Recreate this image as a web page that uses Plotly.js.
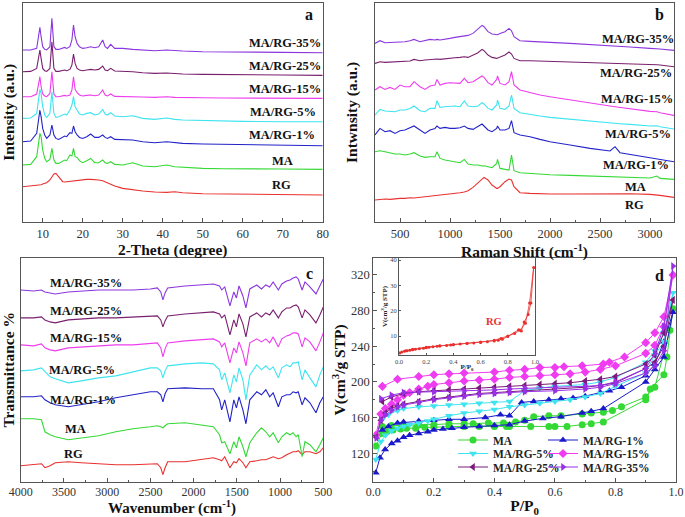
<!DOCTYPE html>
<html>
<head>
<meta charset="utf-8">
<script src="https://cdn.plot.ly/plotly-3.0.1.min.js"></script>
<style>html,body{margin:0;padding:0;background:#fff;}#chart{width:685px;height:517px;}</style>
</head>
<body>
<div id="chart"></div>
<script>
// ---------- Panel a : XRD ----------
const xrdTheta = [5,7,8.5,9,9.3,9.6,10,10.5,11,11.8,12.3,12.8,13.3,14,15,15.5,16,16.8,17.3,17.7,18.1,18.6,19.2,20,21,22,23,24,25,25.6,26.2,27,28,30,32.5,35,38,41,43,45,50,55,60,70,80];
const xrdRG  = [35,35.7,36.3,36.7,36.7,37,37.7,38.3,39,41.7,45,47.7,48.3,45,40,39.7,40,40.3,40.7,41,41,41.3,41.7,42,42.3,42.3,42.3,41.7,41,40,39,37.7,35.7,33.3,31.7,30.7,29.7,29.3,30,29,28,27.7,27.3,27,26.7];
const xrdMA  = [56.7,57.3,65,78.3,88.3,85,71.7,63.3,60,62.3,73.3,61.7,58.3,58.3,61,61.7,61,66.7,65.7,73.3,65,64.3,61,59,61,63.3,59,59,61.7,59,58.3,60,57.3,56.7,59,55.7,55,56.7,55,54.3,53.3,53,52.7,52.7,52.3];
const xrd1   = [80,80.7,88.3,101.7,111.7,105,93.3,86.7,83.3,86.7,96.7,86.7,83.3,82.3,85,85.7,85,89,88.3,95.7,90,86.7,84.3,83.3,85,87.7,84.3,84.3,86.7,84.3,83.3,85,82.3,81.7,81.7,80,79,80,79,78.3,77.7,77.3,77,76.3,76];
const xrd5   = [103.3,103.7,108.3,121.7,132.3,128.3,115,106.7,104.3,108.3,130,108.3,104.3,105,106.7,107.7,106.7,111.7,116.7,125,115,111.7,107.7,106.7,108.3,109,106.7,107.7,112.3,107.7,106.7,109,105.7,105,106,103.3,102.3,103.7,102.3,101.7,101,100.7,100.3,100,100];
const xrd15  = [125,125,127.7,136.7,145,135,127.7,125.7,125,128.3,150,127.7,125,125,125.7,126.3,125.7,126.7,131.7,145,132.3,129,126.7,125.7,126.3,126.7,126,126.7,131.7,126.7,125.7,127.7,125.3,125.3,125,124.7,124.3,125,124.3,124,124,123.7,123.7,123.3,123.3];
const xrd25  = [150,150.3,153.3,163.3,171.7,163.3,153.3,151,150.3,153.3,180,153.3,150.3,150.3,151,151.7,151,152.3,156.7,167.7,158.3,153.3,151.7,151,151.7,152.3,151.7,152.3,155.7,151.7,151,153.3,150.7,150.7,150,149,148.3,148.7,148,147.7,147.3,147,146.7,146.7,146.3];
const xrd35  = [171.7,171.7,173.3,185,194.3,185,175,172.3,171.7,175,203.3,175,172.3,172.3,173.3,174.3,173.3,175,181.7,196.7,185,178.3,175,173.3,174,175,174,175,181.7,175,173.3,177.3,173.3,173.3,172.3,171.7,171,171.7,171,170.7,170,169.7,169.3,169.3,169];

// ---------- Panel b : Raman ----------
const ramanShift = [250,300,350,400,450,500,550,600,640,700,750,800,850,870,900,950,1000,1050,1100,1143,1180,1230,1280,1320,1340,1380,1420,1467,1475,1500,1550,1590,1615,1640,1700,1800,1900,2000,2200,2400,2600,2650,2700,2800,3000,3070,3100,3240];
const ramanRG = [21.7,22.3,22.7,22.3,23,23.3,23.3,24,23.7,24.3,25,25.7,26.3,26.3,26.7,27.3,27.7,28.3,29,29.7,31,34.3,39,43.3,44.3,41.7,36.7,33.3,33.3,35,40,42.7,41.7,35,29,28.3,27.7,27.7,27.7,28,28.3,28.3,28.3,28,27.3,26.7,26.3,24.3];
const ramanMA = [70,71,70,69,67.7,67.7,66.7,67.7,69,65.7,64.3,65,65,70,63.3,61.7,61,60,59,62.3,57.7,56.7,56.7,55.7,56,55,54,58.3,62.3,53.3,52.3,51.7,66.7,51,49,48.3,47.7,47,46.3,45.7,45,45,44.7,44.3,43.7,45.7,43.3,42.3];
const raman1  = [86.7,93.3,90,91,88.3,91,91.7,94.3,95.7,91.7,88.3,91.7,93.3,95.7,93.3,94.3,93.3,93.3,94,95.7,93.3,92.3,95,97.7,95.7,91.7,90,93.3,95.7,91.7,91.7,93.3,101,89,86.7,85,82.3,80,76.7,73.3,70.7,75,69,67.3,64.3,63.3,62.7,60];
const raman5  = [106.7,112.3,110.7,110,110,111.7,111.7,113.3,115.7,111,110,113.3,113.3,121,114.3,115,115.7,115.7,115,120.7,115.7,115,115.7,119,117.7,113.3,111.7,116.7,121.7,113.3,112.3,115.7,126.7,113.3,109,107.7,105.7,104.3,102.3,100.7,99,98.3,98,97.3,95.7,96,95,92.7];
const raman15 = [131.7,135,132.3,134.3,132.3,136.7,135,135,140,135,132.3,135.7,136.7,142.3,136.7,138.3,139,138.3,138.3,143.3,139,140,143.3,145.7,144.3,139,136.7,142.3,145.7,138.3,136.7,140,150,136.7,131.7,129,126.7,125,121.7,118.3,115.7,115,114.3,113,110.3,110,109,106.3];
const raman25 = [158.3,160,159.3,159.7,159.7,160.3,160.7,160.7,162.3,161,161.7,162.3,162.3,162.7,162.3,163,163.3,164,164.3,165,164.3,166.7,169,172.3,171,166.7,164.3,163.3,163.7,164.3,166.7,169.7,167.7,163.3,161,161,160.7,160.7,160.3,159.7,159,158.7,158.7,158.3,157.3,157,156.7,155];
const raman35 = [178.3,181,179,179.3,179,180,180,181,182.3,180,181,182.3,181.7,182.3,181.7,182.3,183.3,184.3,185,185.7,186.3,188.3,193.3,196.3,195,190,187.7,186.7,187,188.3,190,193.3,191,185,181,180.3,180,179.3,178.3,177.3,176,175.7,175.3,174.7,173.3,173,172.7,171.3];

// ---------- Panel c : FTIR ----------
const ftirWn = [4000,3850,3760,3720,3660,3600,3450,3300,3100,2900,2700,2500,2420,2380,2355,2330,2300,2100,1900,1772,1700,1675,1640,1580,1535,1505,1475,1430,1395,1350,1270,1215,1165,1120,1080,1020,980,925,885,850,815,790,745,712,655,585,540,500];
const ftirRG = [16,17,18,14,16,19,20,19,18,17,17,18,18,14,7,14,20,20,22,24,22,21,25,14,20,19,23,19,14,20,21,22,22,24,25,23,24,27,29,30,30,31,27,30,30,28,30,34];
const ftirMA = [63,63,62,50,47,45,42,44,46,50,53,55,56,55,54,56,58,59,57,55,47,39,40,28,40,34,45,35,25,39,49,54,50,45,49,39,45,49,47,49,45,47,25,40,37,30,37,44];
const ftir1  = [85,85,86,82,79,77,75,77,80,84,87,90,90,87,80,88,93,94,93,93,82,72,82,60,82,74,85,72,58,82,90,87,92,85,89,75,85,87,87,90,89,90,77,84,79,69,79,85];
const ftir5  = [111,112,114,110,105,103,99,101,104,106,110,114,114,111,104,111,116,118,119,118,112,102,109,89,107,100,114,102,82,107,117,112,116,112,115,104,114,117,115,119,119,120,102,112,104,95,107,115];
const ftir15 = [137,136,138,134,132,131,134,135,136,137,137,138,139,134,125,133,139,141,142,143,140,135,139,119,134,129,140,129,116,139,143,140,143,139,145,135,143,146,147,149,149,148,135,144,140,131,140,149];
const ftir25 = [164,164,165,162,160,159,162,163,164,164,165,166,166,162,155,161,166,168,169,170,168,164,167,147,162,155,168,158,145,165,169,165,169,167,172,164,170,174,174,176,177,175,164,172,167,159,167,175];
const ftir35 = [192,191,192,190,189,188,190,191,192,192,192,193,194,190,182,189,194,196,197,198,196,192,195,176,190,184,196,186,174,193,197,193,197,195,200,192,198,201,202,204,205,203,192,200,195,188,196,203];

// ---------- Panel d : N2 isotherms ----------
const pMA  = [0.009,0.028,0.045,0.065,0.09,0.11,0.14,0.17,0.2,0.25,0.3,0.35,0.4,0.44,0.45,0.52,0.58,0.6,0.64,0.69,0.72,0.76,0.9,0.915,0.96,0.97,0.99,0.98,0.93,0.9,0.82,0.79,0.76,0.72,0.69,0.62,0.58,0.53,0.5,0.47,0.43,0.38,0.33,0.3,0.25,0.2,0.15,0.1,0.06,0.03];
const vMA  = [128,142,144,146,147,148,148,149,149,150,150,150,150,150,150,150,150,150,150,152,153,155,180,192,208,228,282,258,194,183,172,168,166,165,164,162,162,161,157,155,154,154,153,153,153,152,152,151,151,150];
const p1   = [0.008,0.022,0.039,0.061,0.08,0.1,0.12,0.15,0.18,0.2,0.23,0.26,0.3,0.35,0.4,0.45,0.5,0.56,0.62,0.69,0.72,0.76,0.9,0.93,0.96,0.99,0.96,0.93,0.9,0.82,0.78,0.75,0.7,0.66,0.62,0.58,0.53,0.49,0.45,0.42,0.37,0.3,0.25,0.2,0.15,0.1,0.08,0.05,0.03];
const v1   = [98,115,124,131,134,138,140,142,144,146,147,148,149,150,151,152,156,159,161,165,167,170,200,214,228,278,245,220,207,194,190,188,184,182,181,180,178,177,162,163,160,158,158,157,156,155,154,150,146];
const p5   = [0.008,0.025,0.04,0.06,0.08,0.1,0.12,0.15,0.18,0.2,0.25,0.3,0.35,0.4,0.45,0.5,0.55,0.6,0.65,0.7,0.75,0.8,0.9,0.93,0.96,0.99,0.96,0.93,0.9,0.8,0.75,0.7,0.6,0.55,0.5,0.45,0.4,0.35,0.3,0.25,0.2,0.15,0.1,0.08,0.05,0.03];
const v5   = [113,133,140,145,148,150,152,154,156,158,162,165,167,169,172,174,176,178,180,183,187,195,210,230,245,300,255,235,222,205,200,197,195,193,190,178,177,176,175,174,173,172,170,168,163,158];
const p15  = [0.008,0.025,0.04,0.06,0.08,0.1,0.12,0.15,0.18,0.2,0.25,0.3,0.35,0.4,0.45,0.5,0.55,0.6,0.65,0.7,0.75,0.8,0.9,0.93,0.96,0.99,0.96,0.93,0.9,0.83,0.78,0.76,0.69,0.63,0.6,0.55,0.5,0.45,0.4,0.3,0.25,0.2,0.15,0.08,0.03];
const v15  = [140,164,170,175,180,185,188,192,195,197,199,201,202,203,205,206,207,208,209,211,214,218,232,241,262,320,273,255,244,228,222,220,218,217,216,216,214,213,211,210,209,208,206,203,195];
const p25  = [0.01,0.025,0.04,0.06,0.08,0.1,0.15,0.2,0.25,0.3,0.35,0.4,0.45,0.5,0.6,0.7,0.75,0.8,0.9,0.93,0.96,0.99,0.96,0.93,0.9,0.8,0.75,0.7,0.65,0.6,0.55,0.5,0.45,0.4,0.35,0.3,0.25,0.2,0.15,0.1,0.06,0.03];
const v25  = [138,157,165,170,173,175,178,181,183,185,187,188,189,190,192,194,196,199,215,222,240,292,255,230,220,206,203,201,199,198,197,196,195,194,193,192,191,190,189,187,183,178];
const p35  = [0.01,0.025,0.04,0.06,0.08,0.1,0.15,0.2,0.25,0.3,0.35,0.4,0.45,0.5,0.6,0.7,0.75,0.8,0.9,0.93,0.96,0.99,0.96,0.93,0.9,0.8,0.75,0.7,0.6,0.5,0.45,0.4,0.3,0.2,0.15,0.1,0.06,0.025];
const v35  = [137,157,163,168,172,174,177,180,182,184,186,187,188,189,190,192,194,198,210,218,235,330,262,232,215,200,196,195,194,193,192,191,190,189,189,188,185,181];
// inset : RG
const pRG  = [0.005,0.02,0.04,0.06,0.08,0.1,0.12,0.15,0.18,0.2,0.22,0.25,0.28,0.3,0.35,0.38,0.4,0.45,0.5,0.55,0.6,0.65,0.7,0.73,0.76,0.8,0.88,0.9,0.92,0.95,0.97,0.99,0.96,0.93,0.89,0.85,0.8,0.75,0.7,0.6,0.5,0.4,0.3,0.2,0.1,0.05];
const vRG  = [3.3,3.7,4,4.2,4.4,4.6,4.8,5,5.2,5.4,5.6,5.8,6,6.1,6.3,6.4,6.5,6.8,7,7.2,7.4,7.7,8,8.3,8.7,9.8,12.5,12,15.5,18.5,23,37,23,15,12.3,11,10,9,8.3,7.6,7.1,6.6,6.2,5.6,4.8,4.2];

const names = ['RG','MA','MA/RG-1%','MA/RG-5%','MA/RG-15%','MA/RG-25%','MA/RG-35%'];
const colors = ['#e8312f','#35d935','#2323c8','#3ee4ef','#ee3dee','#7a1f6e','#8b36de'];
const dColors = ['#e8312f','#35d935','#1a1acc','#3ee4ef','#f03cf0','#7a1a7a','#9a30e6'];

const FONT = 'Liberation Serif';
const traces = [];
function spec(x, ys, xa, ya) {
  ys.forEach((y, i) => traces.push({x: x, y: y, xaxis: xa, yaxis: ya, type: 'scatter', mode: 'lines',
    line: {color: colors[i], width: 1.1}, showlegend: false, hoverinfo: 'skip'}));
}
spec(xrdTheta, [xrdRG, xrdMA, xrd1, xrd5, xrd15, xrd25, xrd35], 'x', 'y');
spec(ramanShift, [ramanRG, ramanMA, raman1, raman5, raman15, raman25, raman35], 'x2', 'y2');
spec(ftirWn, [ftirRG, ftirMA, ftir1, ftir5, ftir15, ftir25, ftir35], 'x3', 'y3');

const isoP = [pMA, p1, p5, p15, p25, p35];
const isoV = [vMA, v1, v5, v15, v25, v35];
const symbols = ['circle','triangle-up','triangle-down','diamond','triangle-left','triangle-right'];
const legendIds = ['legend','legend2','legend3','legend4','legend5','legend6'];
isoP.forEach((p, i) => traces.push({x: p, y: isoV[i], xaxis: 'x4', yaxis: 'y4', type: 'scatter', mode: 'lines+markers',
  name: names[i + 1], legend: legendIds[i],
  line: {color: dColors[i + 1], width: 1}, marker: {symbol: symbols[i], size: 7, color: dColors[i + 1]}}));
traces.push({x: pRG, y: vRG, xaxis: 'x5', yaxis: 'y5', type: 'scatter', mode: 'lines+markers', showlegend: false,
  line: {color: '#e8312f', width: 0.8}, marker: {symbol: 'circle', size: 3, color: '#e8312f'}});

const W = 685, H = 517;
const px = v => v / W, py = v => 1 - v / H;
const base = {showline: true, mirror: true, linecolor: '#555', linewidth: 1, showgrid: false, zeroline: false,
  ticks: 'inside', ticklen: 4, tickcolor: '#555', tickfont: {family: FONT, size: 12.5, color: '#333'}};
const titleFont = {family: FONT, size: 15.5, color: '#111', weight: 'bold'};
const lowTickFont = {family: FONT, size: 12, color: '#333'};
const lowTitleFont = {family: FONT, size: 15, color: '#111', weight: 'bold'};
function ax(extra) { return Object.assign({}, base, extra); }
const legFont = {family: FONT, size: 11.5, color: '#222', weight: 'bold'};

const layout = {
  width: W, height: H, margin: {l: 0, r: 0, t: 0, b: 0}, paper_bgcolor: '#fff', plot_bgcolor: 'rgba(0,0,0,0)',
  font: {family: FONT},
  xaxis: ax({domain: [px(22.7), px(322.7)], anchor: 'y', range: [5, 80], tick0: 10, dtick: 10,
    minor: {ticks: 'inside', ticklen: 2, dtick: 5, tickcolor: '#555'},
    title: {text: '2-Theta (degree)', font: titleFont, standoff: 2}}),
  yaxis: ax({domain: [py(221.7), py(3)], anchor: 'x', range: [0, 218.7], showticklabels: false, ticks: '',
    title: {text: 'Intensity (a.u.)', font: titleFont, standoff: 4}}),
  xaxis2: ax({domain: [px(375), px(674)], anchor: 'y2', range: [250, 3240], tick0: 500, dtick: 500,
    minor: {ticks: 'inside', ticklen: 2, dtick: 250, tickcolor: '#555'},
    title: {text: 'Raman Shift (cm<sup>-1</sup>)', font: titleFont, standoff: 2}}),
  yaxis2: ax({domain: [py(221.7), py(3)], anchor: 'x2', range: [0, 218.7], showticklabels: false, ticks: '',
    title: {text: 'Intwnsity (a.u.)', font: titleFont, standoff: 12}}),
  xaxis3: ax({domain: [px(20.7), px(323.3)], anchor: 'y3', range: [4000, 500], tick0: 500, dtick: 500,
    tickfont: lowTickFont, ticklabelstandoff: -1,
    minor: {ticks: 'inside', ticklen: 2, dtick: 250, tickcolor: '#555'},
    title: {text: 'Wavenumber (cm<sup>-1</sup>)', font: lowTitleFont, standoff: 3}}),
  yaxis3: ax({domain: [py(481.7), py(258)], anchor: 'x3', range: [0, 224], showticklabels: false, ticks: '',
    title: {text: 'Transmittance %', font: titleFont, standoff: 4}}),
  xaxis4: ax({domain: [px(373.3), px(676)], anchor: 'y4', range: [0, 1], dtick: 0.2, tickformat: '.1f',
    tickfont: lowTickFont, ticklabelstandoff: -1,
    minor: {ticks: 'inside', ticklen: 2, dtick: 0.1, tickcolor: '#555'},
    title: {text: 'P/P<sub>0</sub>', font: titleFont, standoff: 2}}),
  yaxis4: ax({domain: [py(481.7), py(258)], anchor: 'x4', range: [88, 339], tick0: 0, dtick: 40,
    minor: {ticks: 'inside', ticklen: 2, dtick: 20, tickcolor: '#555'},
    title: {text: 'V(cm<sup>3</sup>/g STP)', font: titleFont, standoff: 1}}),
  xaxis5: ax({domain: [px(399), px(535)], anchor: 'y5', range: [0, 1], dtick: 0.2, tickformat: '.1f', ticklen: 2,
    tickfont: {family: FONT, size: 6.5, color: '#444'},
    title: {text: 'P/P<sub>0</sub>', font: {family: FONT, size: 7, color: '#222', weight: 'bold'}, standoff: 0}}),
  yaxis5: ax({domain: [py(355), py(258)], anchor: 'x5', range: [2.5, 40.8], dtick: 10, ticklen: 2,
    tickfont: {family: FONT, size: 6.5, color: '#444'},
    title: {text: 'V(cm<sup>3</sup>/g STP)', font: {family: FONT, size: 7, color: '#222', weight: 'bold'}, standoff: 1}}),
  annotations: []
};
// one single-entry legend per isotherm, arranged as the 2 x 3 key of the reference
const legX = [453, 543, 453, 543, 453, 543];
const legY = [440, 440, 453.5, 453.5, 467, 467];
legendIds.forEach((id, i) => {
  layout[id] = {x: px(legX[i]), y: py(legY[i]), xanchor: 'left', yanchor: 'middle', font: legFont,
    bgcolor: 'rgba(0,0,0,0)', borderwidth: 0, itemclick: false, itemdoubleclick: false};
});

const lab = (text, x, y, size, color) => layout.annotations.push({text: text, xref: 'paper', yref: 'paper',
  x: px(x), y: py(y), xanchor: 'center', yanchor: 'middle', showarrow: false,
  font: {family: FONT, size: size || 12.5, color: color || '#111', weight: 'bold'}});
// panel a labels
lab('MA/RG-35%', 285, 43.3); lab('MA/RG-25%', 285, 66); lab('MA/RG-15%', 285, 89.3); lab('MA/RG-5%', 283, 112.3);
lab('MA/RG-1%', 281.7, 135); lab('MA', 282.5, 160.7); lab('RG', 281, 185.3); lab('a', 309.3, 14, 16);
// panel b labels
lab('MA/RG-35%', 638, 39.3); lab('MA/RG-25%', 636, 72.7); lab('MA/RG-15%', 637, 99); lab('MA/RG-5%', 638, 134);
lab('MA/RG-1%', 636, 165); lab('MA', 635.8, 186.7); lab('RG', 634.7, 205); lab('b', 659.3, 15, 16);
// panel c labels
lab('MA/RG-35%', 86, 283.3); lab('MA/RG-25%', 86, 311); lab('MA/RG-15%', 86, 338.3); lab('MA/RG-5%', 81.7, 370);
lab('MA/RG-1%', 82.7, 400); lab('MA', 75.3, 429); lab('RG', 73.7, 454); lab('c', 309.3, 273.3, 16);
// panel d
lab('d', 659.3, 275, 16); lab('RG', 494, 321, 10.5, '#e8312f');

Plotly.newPlot('chart', traces, layout, {staticPlot: true});
</script>
</body>
</html>
